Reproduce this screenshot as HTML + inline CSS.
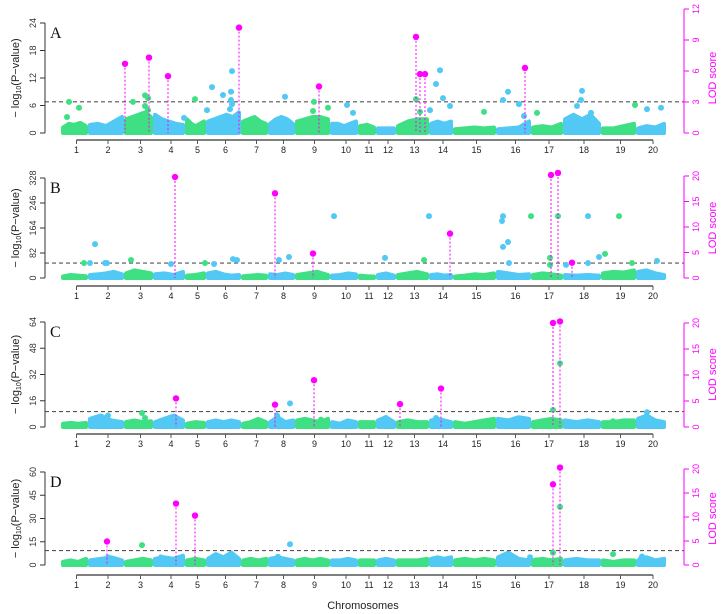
<!DOCTYPE html>
<html><head><meta charset="utf-8"><style>
body{margin:0;background:#fff}
svg{display:block;font-family:"Liberation Sans",sans-serif}
</style></head><body>
<svg id="chart" width="726" height="614" viewBox="0 0 726 614" xmlns="http://www.w3.org/2000/svg"></svg>
<script>
const chromLen=[27,36,29,32,21,35,27,27,35,28,18,20,33,24,43,35,32,38,35,30];
const chromLabels=["1","2","3","4","5","6","7","8","9","10","11","12","13","14","15","16","17","18","19","20"];
const leftTicksA=[0,6,12,18,24],leftTicksB=[0,82,164,246,328],leftTicksC=[0,16,32,48,64],leftTicksD=[0,15,30,45,60];
const lodTicksA=[0,3,6,9,12],lodTicksBCD=[0,5,10,15,20];
const bgA=[[1.2,2,1.8,2.2,1.5],[1.8,2,1.5,2.5,3.5],[3,3.5,4,4.5,3.5],[4,3,2.5,2,1.8],[3,2,1.5,2,2.5],[2.5,3,3.5,4,3.5,4.5],[2.5,3,3.5,2.5,2],[2,3,3.5,3,2],[2.5,3,3.5,3.5,3],[2,2,1.5,2,2.5],[1.5,1.8,1.2],[1,1,1],[1.5,2.5,3,3],[2,2.5,2,2.5],[0.8,1,1.2,1,1.2],[0.8,1,1.2,2.5],[1.2,1.5,1.2,2],[3,4,3,4,2],[1,1,1.5,2],[1,1.5,1.2,2]];
const bgB=[[5,10,8,6],[10,12,15,20,12],[15,25,20,15],[12,15,10,20],[8,10,15],[15,20,12,8,10],[6,8,10,8],[12,10,15,10],[10,15,20,10],[8,10,15,12],[8,6,5],[10,15,8],[10,15,20,12],[10,12,8,10],[5,8,12,10,15],[20,15,10,12],[10,15,12,8],[10,8,10,8],[15,20,18,25],[20,25,15,10]];
const bgC=[[2,2.5,2,2.5],[5,7,4,3],[3,4,3,3.5],[3,5,7,4],[2,3,2.5],[3,4,3,4,3],[2,3,5,3],[3,6,3,4],[4,5,4,3,5],[3,2,4,3],[3,3,3],[4,6,3],[3,4,3,3],[4,5,4,3],[3,2,3,4,5],[5,4,6,5],[3,4,5,4],[4,3,4,3],[3,3,4,4],[5,7,4,3]];
const bgD=[[2,3,2,4],[3,4,5,3],[2,3,4,3],[4,5,4,6],[3,4,3],[4,7,5,8,4],[3,4,3,4],[4,5,4,3],[3,4,3,4,3],[3,3,4,3],[3,3,3],[3,4,3],[3,3,3,4],[4,5,4,5],[3,4,3,4,3],[5,8,4,3],[3,4,3,4],[3,4,3,3],[3,2,3,3],[3,5,3,4]];
const ptsA=[[8,6.8],[18,5.5],[6,3.5],[79,3.3],[84,8.2],[87,7.6],[72,6.8],[84,5.9],[87,5],[134,7.4],[146,5],[123,3.3],[151,10],[162,8.3],[171,13.5],[170,9],[170,7.2],[171,6.3],[169,5.2],[224,7.9],[253,6.8],[252,4.8],[267,5.5],[286,6.1],[292,4.4],[355,7.4],[359,4.6],[369,5],[375,10.7],[379,13.7],[382,7.6],[389,5.9],[442,7.2],[447,9],[458,6.3],[463,3.7],[476,4.4],[423,4.6],[516,5.9],[520,7.2],[521,9.2],[530,4.4],[574,6.1],[586,5.2],[600,5.5]];
const lodA=[[64,6.7],[88,7.3],[107,5.5],[178,10.2],[258,4.5],[355,9.3],[359,5.7],[364,5.7],[464,6.3]];
const ptsB=[[23,49],[29,49],[34,111],[44,49],[46,49],[70,59],[110,46],[144,49],[153,46],[172,62],[176,59],[218,59],[228,69],[273,203],[324,66],[363,59],[368,203],[442,102],[441,187],[442,203],[447,118],[448,49],[470,203],[489,66],[489,43],[497,203],[505,43],[527,203],[527,49],[538,69],[544,79],[558,203],[571,49],[596,56]];
const lodB=[[114,19.8],[214,16.6],[252,4.8],[389,8.7],[490,20.2],[497,20.6],[511,3]];
const ptsC=[[47,7],[81,8.5],[84,5.5],[216,7],[229,14.4],[260,4.5],[492,10.4],[499,38.8],[586,9],[586,6.4],[375,5.5],[325,5.5],[552,3.5]];
const lodC=[[115,5.5],[214,4.3],[253,9],[339,4.4],[380,7.4],[492,20],[499,20.3]];
const ptsD=[[47,4.9],[81,12.8],[100,4.9],[229,13.4],[217,5.3],[492,7.9],[499,37.5],[552,7],[469,5],[475,3],[581,5.5],[586,4],[580,4]];
const lodD=[[46,4.9],[115,12.8],[134,10.3],[492,16.8],[499,20.3]];
const thresholds=[6.8,49,9.4,9.3];

const panels=[
 {id:"a",letter:"A",yTop:23,y0:133,lodTop:9,ax:140,lab:153,lt:leftTicksA,rt:lodTicksA,bg:bgA,pts:ptsA,lod:lodA,thr:thresholds[0]},
 {id:"b",letter:"B",yTop:178,y0:278,lodTop:176,ax:286,lab:299,lt:leftTicksB,rt:lodTicksBCD,bg:bgB,pts:ptsB,lod:lodB,thr:thresholds[1]},
 {id:"c",letter:"C",yTop:322,y0:427,lodTop:323,ax:434,lab:447,lt:leftTicksC,rt:lodTicksBCD,bg:bgC,pts:ptsC,lod:lodC,thr:thresholds[2]},
 {id:"d",letter:"D",yTop:472,y0:565,lodTop:469,ax:575,lab:588,lt:leftTicksD,rt:lodTicksBCD,bg:bgD,pts:ptsD,lod:lodD,thr:thresholds[3]}];

const svg=document.getElementById('chart');
const NS="http://www.w3.org/2000/svg";
const GREEN="#3ee083",BLUE="#52c8f5",MAG="#ff00ff";
const total=chromLen.reduce((a,b)=>a+b,0);
const starts=[];let acc=0;chromLen.forEach(l=>{starts.push(acc);acc+=l;});
const X0=61,X1=666;
function xs(g){return X0+g*(X1-X0)/total;}
function chromOf(g){for(let i=chromLen.length-1;i>=0;i--){if(g>=starts[i])return i;}return 0;}
function colOf(i){return i%2===0?GREEN:BLUE;}
function mk(tag,attrs,parent){const e=document.createElementNS(NS,tag);for(const k in attrs)e.setAttribute(k,attrs[k]);(parent||svg).appendChild(e);return e;}

panels.forEach(p=>{
 const maxL=p.lt[p.lt.length-1],maxR=p.rt[p.rt.length-1];
 const ys=v=>p.y0-(v/maxL)*(p.y0-p.yTop);
 const yl=v=>p.y0-(v/maxR)*(p.y0-p.lodTop);
 const g=mk('g',{});
 
 
 // background bands
 p.bg.forEach((prof,i)=>{
  const xa=xs(starts[i])+2,xb=xs(starts[i]+chromLen[i])-2;
  let d=`M${xa},${p.y0}`;
  prof.forEach((v,k)=>{const x=xa+(xb-xa)*k/(prof.length-1);d+=` L${x.toFixed(1)},${ys(v).toFixed(1)}`;});
  d+=` L${xb},${p.y0} Z`;
  const path=mk('path',{d:d,fill:colOf(i),stroke:colOf(i),'stroke-width':4,'stroke-linejoin':'round'},g);
  
  
 });
 // threshold
 const th=mk('line',{x1:45,x2:684,y1:ys(p.thr),y2:ys(p.thr),stroke:'#555','stroke-width':1.2,'stroke-dasharray':'4,3'},g);
 
 
 // points
 p.pts.forEach(pt=>{
  const c=mk('circle',{cx:xs(pt[0]),cy:ys(pt[1]),r:3,fill:colOf(chromOf(pt[0]))},g);
  
  
 });
 // LOD peaks
 p.lod.forEach(pt=>{
  const x=xs(pt[0]);
  const ln=mk('line',{x1:x,x2:x,y1:yl(pt[1]),y2:p.y0,stroke:MAG,'stroke-width':1,'stroke-dasharray':'2,2'},g);
  
  
  const c=mk('circle',{cx:x,cy:yl(pt[1]),r:3.2,fill:MAG},g);
  
  
 });
 // left axis
 const la=mk('line',{x1:45,x2:45,y1:ys(maxL),y2:p.y0,stroke:'#333','stroke-width':1},g);
 
 
 p.lt.forEach(v=>{
  mk('line',{x1:40,x2:45,y1:ys(v),y2:ys(v),stroke:'#333'},g);
  const t=mk('text',{x:0,y:0,transform:`translate(36,${ys(v)}) rotate(-90)`,'text-anchor':'middle','font-size':9,fill:'#333'},g);
  t.textContent=v;
  
  
 });
 const ym=(p.yTop+p.y0)/2;
 const yt=mk('text',{transform:`translate(19,${ym}) rotate(-90)`,'text-anchor':'middle','font-size':11,fill:'#222'},g);
 yt.innerHTML='− log<tspan font-size="7" dy="2">10</tspan><tspan dy="-2">(P−value)</tspan>';
 
 
 // right axis
 const ra=mk('line',{x1:684,x2:684,y1:yl(maxR),y2:p.y0,stroke:MAG,'stroke-width':1},g);
 
 
 p.rt.forEach(v=>{
  mk('line',{x1:684,x2:689,y1:yl(v),y2:yl(v),stroke:MAG},g);
  const t=mk('text',{transform:`translate(699,${yl(v)}) rotate(-90)`,'text-anchor':'middle','font-size':9,fill:MAG},g);
  t.textContent=v;
  
  
 });
 const rt=mk('text',{transform:`translate(716,${ym}) rotate(-90)`,'text-anchor':'middle','font-size':11,fill:MAG},g);
 rt.textContent='LOD score';
 
 
 // letter
 const lt=mk('text',{x:50,y:p.yTop+15,'font-size':16,'font-family':'"Liberation Serif",serif',fill:'#111'},g);
 lt.textContent=p.letter;
 
 
 // x axis
 const cx=i=>xs(starts[i]+chromLen[i]/2)+2;
 const xa=mk('line',{x1:cx(0),x2:cx(19),y1:p.ax,y2:p.ax,stroke:'#555','stroke-width':1.5},g);
 
 
 chromLabels.forEach((lab,i)=>{
  mk('line',{x1:cx(i),x2:cx(i),y1:p.ax,y2:p.ax+4,stroke:'#555'},g);
  const t=mk('text',{x:cx(i),y:p.lab,'text-anchor':'middle','font-size':9,fill:'#222'},g);
  t.textContent=lab;
  
  
 });
});
const xt=mk('text',{x:363,y:609,'text-anchor':'middle','font-size':11,fill:'#222'});
xt.textContent='Chromosomes';


</script>
</body></html>
